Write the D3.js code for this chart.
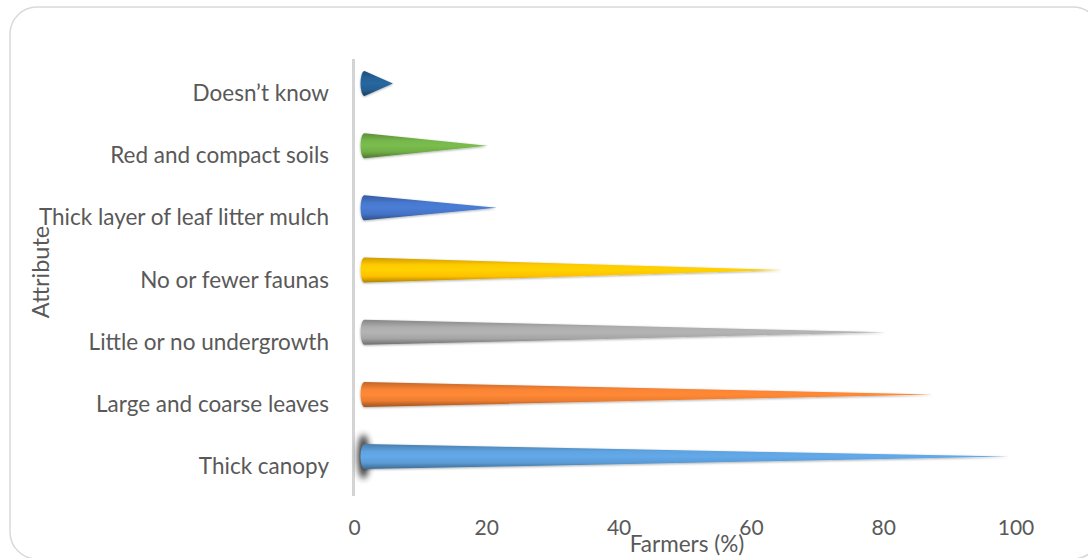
<!DOCTYPE html>
<html>
<head>
<meta charset="utf-8">
<script src="https://cdn.jsdelivr.net/npm/d3@7"></script>
<style>
  html, body { margin: 0; padding: 0; background: #ffffff; }
  svg { display: block; }
  text { font-family: Lato, "Open Sans", sans-serif; fill: #595959; }
</style>
</head>
<body>
<svg id="chart" width="1088" height="558"></svg>
<script>
// Attributes farmers associate with the forest, bottom to top
const categories = [
  "Thick canopy",
  "Large and coarse leaves",
  "Little or no undergrowth",
  "No or fewer faunas",
  "Thick layer of leaf litter mulch",
  "Red and compact soils",
  "Doesn’t know"
];
// Share of farmers (%) naming each attribute
const values = [98.9, 87.4, 80.3, 64.7, 21.5, 20.1, 5.8];
// Cone colours, one per attribute
const colors = ["#5b9bd5", "#ed7d31", "#a5a5a5", "#ffc000", "#4472c4", "#70ad47", "#255e91"];
const xTicks = [0, 20, 40, 60, 80, 100];

const svg = d3.select("#chart");

const x = d3.scaleLinear().domain([0, 100]).range([354.5, 1016]);
const y = d3.scalePoint().domain(categories).range([456.6, 83.5]);

const coneHalf = 12.5;   // half height of the cone base
const baseRx = 4;        // depth of the elliptical base
const baseOffset = 10;   // base ellipse centre, right of the axis

// Outer frame
svg.append("rect")
  .attr("x", 10).attr("y", 7)
  .attr("width", 1090).attr("height", 552)
  .attr("rx", 27).attr("ry", 27)
  .attr("fill", "#ffffff")
  .attr("stroke", "#d9d9d9")
  .attr("stroke-width", 1.5);

const defs = svg.append("defs");

// Soft halo around cones
const halo = defs.append("filter").attr("id", "halo")
  .attr("x", "-5%").attr("y", "-40%").attr("width", "110%").attr("height", "180%");
halo.append("feDropShadow")
  .attr("dx", 0).attr("dy", 0.8)
  .attr("stdDeviation", 0.9)
  .attr("flood-color", "#000000")
  .attr("flood-opacity", 0.35);

const blur = defs.append("filter").attr("id", "blurShadow")
  .attr("x", "-200%").attr("y", "-100%").attr("width", "500%").attr("height", "300%");
blur.append("feGaussianBlur").attr("stdDeviation", 3.2);

// Cylindrical shading per colour
colors.forEach((c, i) => {
  const base = d3.color(c);
  const g = defs.append("linearGradient")
    .attr("id", "grad" + i)
    .attr("x1", 0).attr("y1", 0).attr("x2", 0).attr("y2", 1);
  g.append("stop").attr("offset", "0%").attr("stop-color", base.darker(0.6));
  g.append("stop").attr("offset", "30%").attr("stop-color", base.brighter(0.15));
  g.append("stop").attr("offset", "50%").attr("stop-color", base.brighter(0.25));
  g.append("stop").attr("offset", "75%").attr("stop-color", base);
  g.append("stop").attr("offset", "100%").attr("stop-color", base.darker(1.1));
});

// Y axis line
svg.append("line")
  .attr("x1", x(0) - 1).attr("x2", x(0) - 1)
  .attr("y1", 59).attr("y2", 496)
  .attr("stroke", "#d4d4d4")
  .attr("stroke-width", 3);

// Shadow behind the base of the longest cone
svg.append("ellipse")
  .attr("cx", x(0) + 9).attr("cy", y(categories[0]))
  .attr("rx", 6).attr("ry", 22)
  .attr("fill", "#2a2a2a")
  .attr("opacity", 0.9)
  .attr("filter", "url(#blurShadow)");

// Cones
const data = categories.map((c, i) => ({ cat: c, v: values[i], i }));
svg.append("g").selectAll("path")
  .data(data)
  .join("path")
  .attr("d", d => {
    const cy = y(d.cat);
    const bx = x(0) + baseOffset;
    const tx = x(d.v);
    return `M${tx},${cy} L${bx},${cy - coneHalf} ` +
           `A${baseRx},${coneHalf} 0 0 0 ${bx},${cy + coneHalf} Z`;
  })
  .attr("fill", d => `url(#grad${d.i})`)
  .attr("filter", "url(#halo)");

// Category labels
svg.append("g").selectAll("text")
  .data(categories)
  .join("text")
  .attr("x", 329)
  .attr("y", d => y(d) + 9)
  .attr("text-anchor", "end")
  .attr("dominant-baseline", "central")
  .attr("font-size", 22.5)
  .text(d => d);

// X tick labels
svg.append("g").selectAll("text")
  .data(xTicks)
  .join("text")
  .attr("x", d => x(d))
  .attr("y", 526)
  .attr("text-anchor", "middle")
  .attr("dominant-baseline", "central")
  .attr("font-size", 21)
  .text(d => d);

// Axis titles
svg.append("text")
  .attr("x", 687).attr("y", 543)
  .attr("text-anchor", "middle")
  .attr("dominant-baseline", "central")
  .attr("font-size", 22.5)
  .text("Farmers (%)");

svg.append("text")
  .attr("transform", "translate(40,272) rotate(-90)")
  .attr("text-anchor", "middle")
  .attr("dominant-baseline", "central")
  .attr("font-size", 23.5)
  .text("Attribute");
</script>
</body>
</html>
